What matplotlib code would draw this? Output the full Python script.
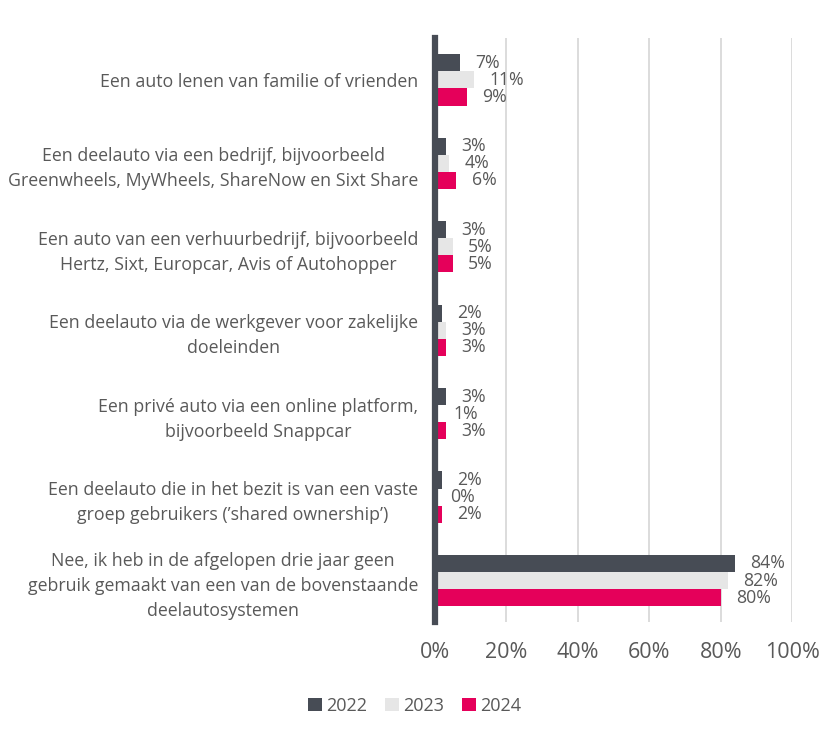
import matplotlib.pyplot as plt
import numpy as np

plt.rcParams['font.family'] = ['Open Sans', 'DejaVu Sans']

# categorieën (van boven naar beneden)
categories = [
    "Een auto lenen van familie of vrienden",
    "Een deelauto via een bedrijf, bijvoorbeeld\nGreenwheels, MyWheels, ShareNow en Sixt Share",
    "Een auto van een verhuurbedrijf, bijvoorbeeld\nHertz, Sixt, Europcar, Avis of Autohopper",
    "Een deelauto via de werkgever voor zakelijke\ndoeleinden",
    "Een privé auto via een online platform,\nbijvoorbeeld Snappcar",
    "Een deelauto die in het bezit is van een vaste\ngroep gebruikers (’shared ownership’)",
    "Nee, ik heb in de afgelopen drie jaar geen\ngebruik gemaakt van een van de bovenstaande\ndeelautosystemen",
]
years = ["2022", "2023", "2024"]
vals_2022 = [7, 3, 3, 2, 3, 2, 84]
vals_2023 = [11, 4, 5, 3, 1, 0, 82]
vals_2024 = [9, 6, 5, 3, 3, 2, 80]
xticks = [0, 20, 40, 60, 80, 100]

colors = ["#474c55", "#e6e6e6", "#e5005a"]
text_color = "#595959"

fig = plt.figure(figsize=(8.33, 7.33), dpi=100)
ax = fig.add_axes([0.522, 0.151, 0.429, 0.797])

y = np.arange(len(categories))
h = 0.205
series = [vals_2022, vals_2023, vals_2024]
for i, (vals, col, yr) in enumerate(zip(series, colors, years)):
    pos = y + (i - 1) * h
    ax.barh(pos, vals, height=h, color=col, label=yr, zorder=3)
    for p, v in zip(pos, vals):
        ax.annotate(f"{v}%", (v, p), xytext=(11, 0), textcoords="offset points",
                    va="center", ha="left", fontsize=12.7, color=text_color)

ax.set_ylim(len(categories) - 0.5, -0.5)
ax.set_xlim(0, 100)
ax.set_yticks(y)
ax.set_yticklabels(categories, fontsize=12.8, color=text_color,
                   multialignment="center", linespacing=1.5)
ax.set_xticks(xticks)
ax.set_xticklabels([f"{t}%" for t in xticks], fontsize=15.5, color=text_color)
ax.tick_params(axis="both", length=0)
ax.tick_params(axis="y", pad=12)
ax.tick_params(axis="x", pad=14)

ax.grid(axis="x", color="#d9d9d9", linewidth=1.3, zorder=0)
for s in ["top", "right", "bottom"]:
    ax.spines[s].set_visible(False)
ax.spines["left"].set_color("#474c55")
ax.spines["left"].set_linewidth(4.5)
ax.spines["left"].set_zorder(4)

fig.legend(loc="center", bbox_to_anchor=(0.498, 0.037), ncol=3, frameon=False,
           fontsize=13, handlelength=0.75, handleheight=0.75, handletextpad=0.25,
           columnspacing=1.0, labelcolor=text_color)

fig.savefig("out.png", dpi=100)
